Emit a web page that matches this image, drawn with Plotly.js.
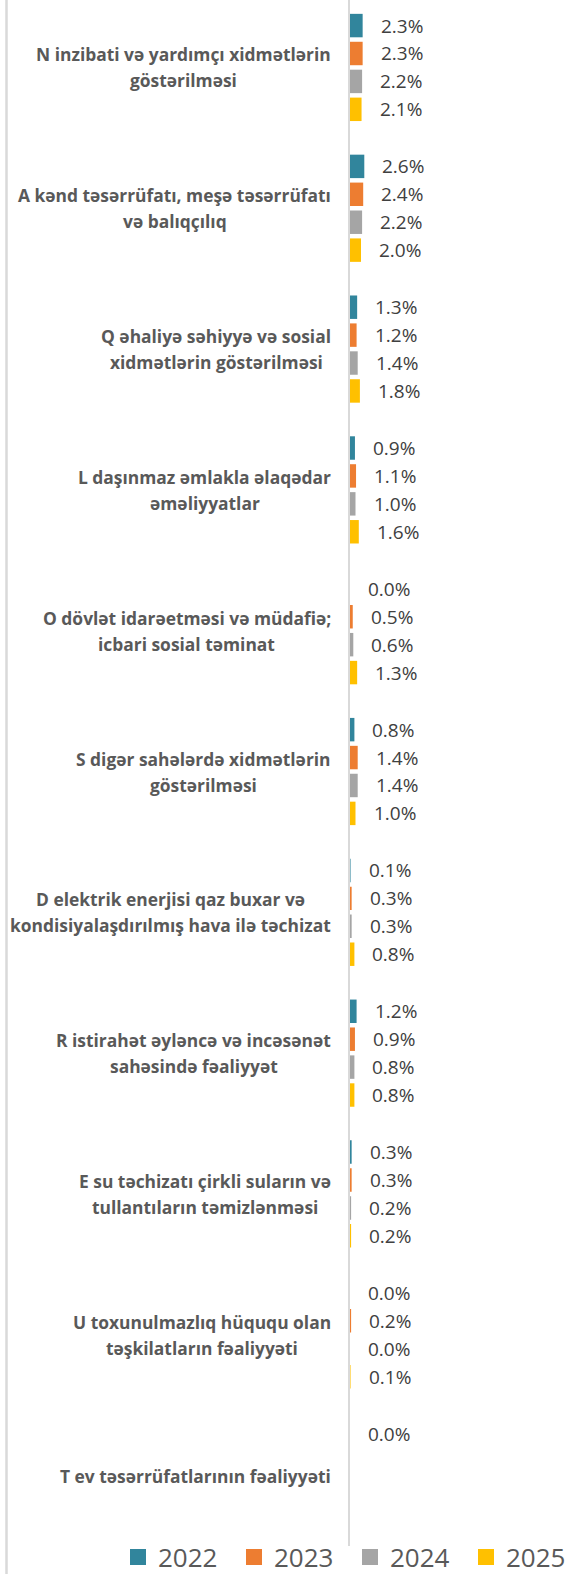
<!DOCTYPE html>
<html>
<head>
<meta charset="utf-8">
<script src="https://cdn.plot.ly/plotly-3.0.1.min.js"></script>
<style>html,body{margin:0;padding:0;background:#fff;}</style>
</head>
<body>
<div id="chart" style="width:581px;height:1574px;"></div>
<script>
const categories = [
  "N inzibati və yardımçı xidmətlərin<br>göstərilməsi",
  "A kənd təsərrüfatı, meşə təsərrüfatı<br>və balıqçılıq",
  "Q əhaliyə səhiyyə və sosial<br>xidmətlərin göstərilməsi",
  "L daşınmaz əmlakla əlaqədar<br>əməliyyatlar",
  "O dövlət idarəetməsi və müdafiə;<br>icbari sosial təminat",
  "S digər sahələrdə xidmətlərin<br>göstərilməsi",
  "D elektrik enerjisi qaz buxar və<br>kondisiyalaşdırılmış hava ilə təchizat",
  "R istirahət əyləncə və incəsənət<br>sahəsində fəaliyyət",
  "E su təchizatı çirkli suların və<br>tullantıların təmizlənməsi",
  "U toxunulmazlıq hüququ olan<br>təşkilatların fəaliyyəti",
  "T ev təsərrüfatlarının fəaliyyəti"
];
const years = ["2022", "2023", "2024", "2025"];
const v2022 = [2.3, 2.6, 1.3, 0.9, 0.0, 0.8, 0.1, 1.2, 0.3, 0.0, 0.0];
const v2023 = [2.3, 2.4, 1.2, 1.1, 0.5, 1.4, 0.3, 0.9, 0.3, 0.2, null];
const v2024 = [2.2, 2.2, 1.4, 1.0, 0.6, 1.4, 0.3, 0.8, 0.2, 0.0, null];
const v2025 = [2.1, 2.0, 1.8, 1.6, 1.3, 1.0, 0.8, 0.8, 0.2, 0.1, null];

const series = [v2022, v2023, v2024, v2025];
const colors = ["#31859c", "#ed7d31", "#a5a5a5", "#ffc000"];
const FONT = "Open Sans";
const W = 581;
const BARGAP = 0.207;
const nSeries = series.length;
const slot = (1 - BARGAP) / nSeries;

const traces = [];
series.forEach((vals, j) => {
  traces.push({
    type: "bar", orientation: "h",
    y: categories, x: vals,
    name: years[j],
    marker: {color: colors[j]},
    showlegend: false,
    hoverinfo: "skip"
  });
});
// legend entries
series.forEach((vals, j) => {
  traces.push({
    type: "scatter", mode: "markers",
    x: [null], y: [null],
    name: years[j],
    marker: {symbol: "square", size: 18, color: colors[j]},
    showlegend: true, hoverinfo: "skip"
  });
});

const annotations = [];
// value labels
series.forEach((vals, j) => {
  vals.forEach((v, i) => {
    if (v === null || v === undefined) return;
    annotations.push({
      xref: "x", yref: "y",
      x: v, y: i + (j - (nSeries - 1) / 2) * slot,
      text: v.toFixed(1) + "%",
      showarrow: false, xanchor: "left", yanchor: "middle",
      xshift: 16,
      font: {family: FONT, size: 19, color: "#404040"}
    });
  });
});

// category labels: lines centred within a right-aligned block
const cv = document.createElement("canvas").getContext("2d");
const CAT_SIZE = 17.4;
cv.font = "bold " + CAT_SIZE + "px '" + FONT + "'";
const LINE_H = 26;
categories.forEach((lab, i) => {
  const lines = lab.split("<br>");
  const blockW = Math.max(...lines.map(s => cv.measureText(s).width));
  lines.forEach((ln, k) => {
    annotations.push({
      xref: "x", yref: "y", x: 0, y: i,
      text: "<b>" + ln + "</b>",
      showarrow: false, xanchor: "center", yanchor: "middle",
      xshift: -19 - blockW / 2,
      yshift: ((lines.length - 1) / 2 - k) * LINE_H,
      font: {family: FONT, size: CAT_SIZE, color: "#595959"}
    });
  });
});

const layout = {
  width: W, height: 1574,
  margin: {l: 0, r: 0, t: 0, b: 28, pad: 0, autoexpand: false},
  paper_bgcolor: "#ffffff", plot_bgcolor: "#ffffff",
  font: {family: FONT, color: "#595959"},
  barmode: "group", bargap: BARGAP, bargroupgap: 0.16,
  xaxis: {domain: [350 / W, 570 / W], range: [0, 40], visible: false, fixedrange: true},
  yaxis: {
    type: "category", categoryorder: "array", categoryarray: categories,
    range: [10.5, -0.479],
    showticklabels: false, ticks: "", showgrid: false, zeroline: false,
    showline: true, linecolor: "#d9d9d9", linewidth: 2, fixedrange: true
  },
  showlegend: true,
  legend: {
    orientation: "h", xref: "paper", yref: "container",
    x: 118 / W, xanchor: "left", y: 17 / 1574, yanchor: "middle",
    font: {family: FONT, size: 26, color: "#595959"},
    entrywidth: 71,
    itemclick: false, itemdoubleclick: false,
    bgcolor: "rgba(0,0,0,0)"
  },
  shapes: [{
    type: "line", xref: "paper", yref: "paper",
    x0: 6.5 / W, x1: 6.5 / W, y0: -0.02, y1: 1,
    line: {color: "#d9d9d9", width: 2.5}
  }],
  annotations: annotations
};

Plotly.newPlot("chart", traces, layout, {displayModeBar: false, staticPlot: true});
</script>
</body>
</html>
